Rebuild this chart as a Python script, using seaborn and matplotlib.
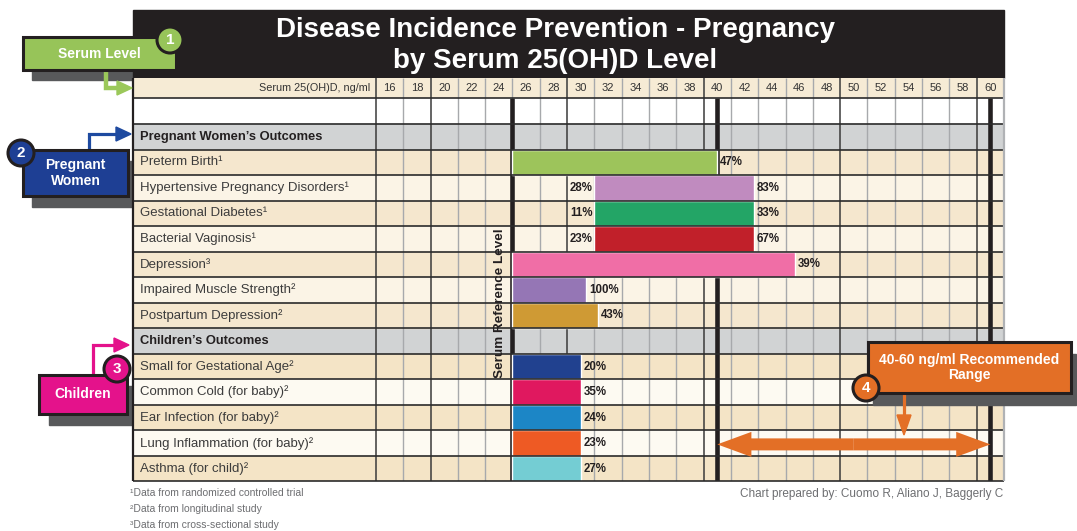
import matplotlib
matplotlib.use("Agg")
import matplotlib.pyplot as plt
from matplotlib.patches import Rectangle, Circle, Polygon, FancyArrow
import pandas as pd
import seaborn as sns

# serum 25(OH)D columns (ng/ml)
serum_levels = list(range(16, 61, 2))
reference_level = 25
recommended_range = [40, 60]

# pregnant women's outcomes
preg_outcomes = ["Preterm Birth", "Hypertensive Pregnancy Disorders", "Gestational Diabetes",
                 "Bacterial Vaginosis", "Depression", "Impaired Muscle Strength",
                 "Postpartum Depression"]
preg_notes = ["¹", "¹", "¹", "¹", "³", "²", "²"]
preg_start = [25, 31, 31, 31, 25, 25, 25]
preg_end = [40, 42.7, 42.7, 42.7, 45.7, 30.4, 31.3]
preg_low = ["", "28%", "11%", "23%", "", "", ""]
preg_high = ["47%", "83%", "33%", "67%", "39%", "100%", "43%"]
preg_colors = ["#9DC45B", "#C08BBF", "#23A566", "#C1202A", "#F06EA6", "#9576B5", "#CF9A34"]

# children's outcomes
child_outcomes = ["Small for Gestational Age", "Common Cold (for baby)", "Ear Infection (for baby)",
                  "Lung Inflammation (for baby)", "Asthma (for child)"]
child_notes = ["²", "²", "²", "²", "²"]
child_start = [25, 25, 25, 25, 25]
child_end = [30, 30, 30, 30, 30]
child_high = ["20%", "35%", "24%", "23%", "27%"]
child_colors = ["#21418F", "#E0185F", "#1C86C6", "#EE5A24", "#74CDD3"]

footnotes = ["¹Data from randomized controlled trial", "²Data from longitudinal study",
             "³Data from cross-sectional study"]

preg = pd.DataFrame({"outcome": preg_outcomes, "note": preg_notes, "start": preg_start,
                     "end": preg_end, "low": preg_low, "high": preg_high, "color": preg_colors})
preg["row"] = range(2, 9)
preg["bg"] = ["#F5E7CE", "#FBF4E6"] * 3 + ["#F5E7CE"]
child = pd.DataFrame({"outcome": child_outcomes, "note": child_notes, "start": child_start,
                      "end": child_end, "low": [""] * 5, "high": child_high, "color": child_colors})
child["row"] = range(10, 15)
child["bg"] = ["#F4E4C6", "#FDFAF2"] * 2 + ["#F4E4C6"]
bars = pd.concat([preg, child], ignore_index=True)

sns.set_style("white")
plt.rcParams["font.family"] = ["Liberation Sans", "DejaVu Sans"]

W, H = 1077, 531
fig = plt.figure(figsize=(W / 100, H / 100), dpi=100)

bg = fig.add_axes([0, 0, 1, 1], zorder=0)
top = fig.add_axes([0, 0, 1, 1], zorder=2)
for a in (bg, top):
    a.set_xlim(0, W)
    a.set_ylim(H, 0)
    a.axis("off")
    a.patch.set_alpha(0)

# table axes: x in ng/ml, y in rows
PX = 13.66
X0, X1 = 15 - 243 / PX, 61
HEAD = 0.81
ax = fig.add_axes([133 / W, 1 - 481.4 / H, 871 / W, 403.6 / H], zorder=1)
ax.set_xlim(X0, X1)
ax.set_ylim(15, -HEAD)
ax.axis("off")

ax.axhspan(-HEAD, 0, color="#F6EBD5", zorder=0)
ax.axhspan(0, 1, color="white", zorder=0)
for r in (1, 9):
    ax.axhspan(r, r + 1, color="#D1D3D4", zorder=0)
for _, b in bars.iterrows():
    ax.axhspan(b.row, b.row + 1, color=b.bg, zorder=0)

odd = list(range(17, 61, 2))
ax.vlines([v for v in odd if v % 10 != 9], -HEAD, 15, color="#A7A9AC", lw=1, zorder=1)
ax.vlines([15] + [v for v in odd if v % 10 == 9], -HEAD, 15, color="#3A3A3A", lw=1.1, zorder=1)
ax.vlines([reference_level] + recommended_range, 0, 15, color="#231F20", lw=3.3, zorder=2)

ax.barh(bars.row + 0.5, bars.end - bars.start, left=bars.start, height=1,
        color=bars.color, zorder=3)
ax.hlines(range(0, 16), X0, X1, color="#2B2B2B", lw=1.2, zorder=4, clip_on=False)
ax.vlines(X0, -HEAD, 15, color="#231F20", lw=1.6, zorder=4, clip_on=False)
ax.vlines(X1, -HEAD, 15, color="#B0B2B5", lw=1.6, zorder=4, clip_on=False)

# header row
for v in serum_levels:
    ax.text(v, -HEAD / 2, str(v), ha="center", va="center", fontsize=8, color="#333333")
ax.annotate("Serum 25(OH)D, ng/ml", xy=(15, -HEAD / 2), xytext=(-4, 0), textcoords="offset points",
            ha="right", va="center", fontsize=7.8, color="#333333")

# row labels
for r, txt in [(1, "Pregnant Women’s Outcomes"), (9, "Children’s Outcomes")]:
    ax.annotate(txt, xy=(X0, r + 0.5), xytext=(5, 0), textcoords="offset points",
                ha="left", va="center", fontsize=9.3, fontweight="bold", color="#231F20")
for _, b in bars.iterrows():
    ax.annotate(b.outcome + b.note, xy=(X0, b.row + 0.5), xytext=(5, 0), textcoords="offset points",
                ha="left", va="center", fontsize=9.5, color="#3C3C3C")
    pct = dict(va="center", fontsize=8.3, fontweight="bold", color="#231F20",
               family=["Liberation Sans Narrow", "Liberation Sans"], textcoords="offset points")
    ax.annotate(b.high, xy=(b.end, b.row + 0.5), xytext=(2, 0), ha="left", zorder=6, **pct)
    if b.low:
        ax.annotate(b.low, xy=(b.start, b.row + 0.5), xytext=(-1.5, 0), ha="right", zorder=6, **pct)

ax.text(reference_level - 0.9, 8.0, "Serum Reference Level", rotation=90, ha="center", va="center",
        fontsize=9.7, fontweight="bold", color="#231F20", zorder=6)

# recommended range double arrow
mid = sum(recommended_range) / 2
for end in recommended_range:
    ax.add_patch(FancyArrow(mid, 13.55, end - mid, 0, width=0.47, head_width=0.98,
                            head_length=2.5, length_includes_head=True,
                            color="#E36F26", lw=0, zorder=7))

# title bar and callout shadows (behind the table)
bg.add_patch(Rectangle((23 + 9, 37 + 10), 153, 33, color="#58595B", zorder=1))
bg.add_patch(Rectangle((23 + 9, 150 + 11), 105, 46, color="#58595B", zorder=1))
bg.add_patch(Rectangle((39 + 10, 375 + 11), 88, 39, color="#58595B", zorder=1))
bg.add_patch(Rectangle((133, 10), 871, 68, color="#231F20", zorder=2))
top.text(555, 30, "Disease Incidence Prevention - Pregnancy", ha="center", va="center",
         fontsize=20, fontweight="bold", color="white")
top.text(555, 61, "by Serum 25(OH)D Level", ha="center", va="center",
         fontsize=20, fontweight="bold", color="white")


def elbow_arrow(x, y0, y1, x1, color, lw):
    top.plot([x, x, x1 - 13], [y0, y1, y1], color=color, lw=lw, solid_capstyle="butt",
             solid_joinstyle="miter", zorder=3)
    top.add_patch(Polygon([(x1 - 15, y1 - 7), (x1, y1), (x1 - 15, y1 + 7)], color=color, zorder=3))


def callout(x, y, w, h, color, text, num, cx, cy):
    top.add_patch(Rectangle((x, y), w, h, fc=color, ec="#231F20", lw=2.2, zorder=4))
    top.text(x + w / 2, y + h / 2, text, ha="center", va="center", fontsize=10,
             fontweight="bold", color="white", linespacing=1.15, zorder=5)
    top.add_patch(Circle((cx, cy), 13, fc=color, ec="#231F20", lw=2.2, zorder=5))
    top.text(cx, cy, num, ha="center", va="center", fontsize=11, fontweight="bold",
             color="white", zorder=6)


elbow_arrow(106, 70, 88, 132, "#9BC85A", 3.2)
elbow_arrow(89, 150, 134, 131, "#1E4AA0", 2.3)
elbow_arrow(93, 375, 345, 129, "#E4128B", 2.3)
callout(23, 37, 153, 33, "#97C459", "Serum Level", "1", 170, 40)
callout(23, 150, 105, 46, "#1E3F94", "Pregnant\nWomen", "2", 21, 153)
callout(39, 375, 88, 39, "#E4128B", "Children", "3", 117, 369)

top.add_patch(Rectangle((873, 354), 203, 51, color="#58595B", zorder=3))
top.plot([904, 904], [393, 417], color="#E36F26", lw=2.3, zorder=3)
top.add_patch(Polygon([(897, 415), (904, 435), (911, 415)], color="#E36F26", zorder=3))
callout(868, 342, 203, 51, "#E36F26", "40-60 ng/ml Recommended\nRange", "4", 866, 388)

for i, t in enumerate(footnotes):
    top.text(130, 493 + 16 * i, t, ha="left", va="center", fontsize=7.5, color="#6D6E71")
top.text(1003, 494, "Chart prepared by: Cuomo R, Aliano J, Baggerly C", ha="right", va="center",
         fontsize=8.5, color="#6D6E71")

fig.savefig("out.png", dpi=100)
